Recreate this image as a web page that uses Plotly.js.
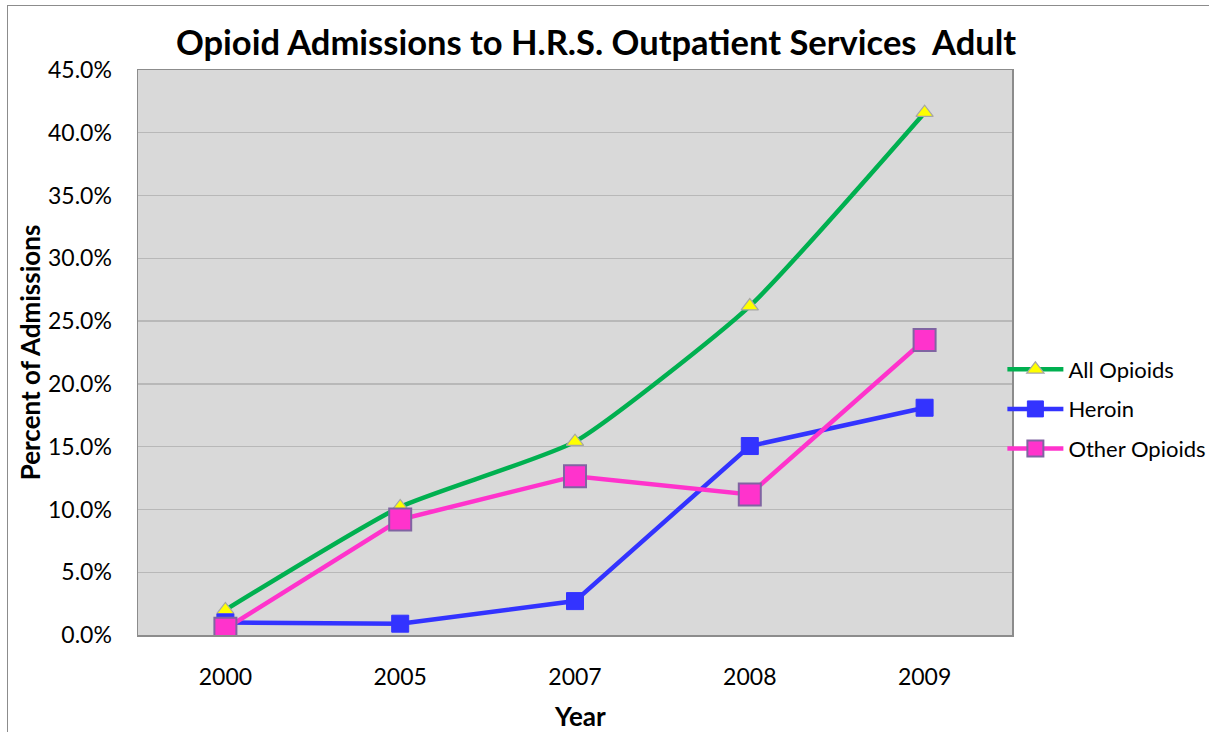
<!DOCTYPE html>
<html>
<head>
<meta charset="utf-8">
<script src="https://cdn.plot.ly/plotly-3.0.1.min.js"></script>
<style>
html,body{margin:0;padding:0;background:#fff;overflow:hidden;}
#frame{position:absolute;left:7px;top:5px;width:1300px;height:800px;border-left:1.5px solid #8c8c8c;border-top:1.5px solid #8c8c8c;}
#chart{position:absolute;left:0;top:0;width:1209px;height:732px;}
</style>
</head>
<body>
<div id="frame"></div>
<div id="chart"></div>
<script>
const years = ["2000", "2005", "2007", "2008", "2009"];
const allOpioids = [2.0, 10.2, 15.4, 26.2, 41.6];
const heroin = [1.0, 0.9, 2.7, 15.05, 18.1];
const otherOpioids = [0.5, 9.2, 12.65, 11.2, 23.5];
const yTicks = [0, 5, 10, 15, 20, 25, 30, 35, 40, 45];

const FONT = "Lato, 'Open Sans', sans-serif";

const traces = [
  {
    x: years, y: allOpioids, name: "All Opioids", type: "scatter", mode: "lines+markers",
    legendgroup: "a",
    line: {color: "#00B050", width: 4.5, shape: "spline", smoothing: 0.5},
    marker: {symbol: "triangle-up", size: 15, color: "#FFFF00", line: {color: "#A6A6A6", width: 1.2}}
  },
  {
    x: years, y: heroin, name: "Heroin", type: "scatter", mode: "lines+markers",
    legendgroup: "b",
    line: {color: "#3333FF", width: 4.5},
    marker: {symbol: "square", size: 17, color: "#3333FF", line: {color: "#3333FF", width: 1}}
  },
  {
    x: years, y: otherOpioids, name: "Other Opioids", type: "scatter", mode: "lines+markers",
    legendgroup: "c",
    line: {color: "#FF33CC", width: 4.5},
    marker: {symbol: "square", size: 22, color: "#FF33CC", line: {color: "#8064A2", width: 2}}
  }
];

const layout = {
  width: 1209, height: 732,
  margin: {l: 138, r: 197, t: 70, b: 97, autoexpand: false},
  paper_bgcolor: "rgba(0,0,0,0)",
  plot_bgcolor: "#D9D9D9",
  font: {family: FONT, size: 22, color: "#000"},
  title: {
    text: "<b>Opioid Admissions to H.R.S. Outpatient Services  Adult</b>",
    font: {family: FONT, size: 34.5, color: "#000"},
    x: 0.493, xanchor: "center", y: 0.942, yanchor: "middle"
  },
  xaxis: {
    type: "category",
    range: [-0.5, 4.5],
    showgrid: false,
    showline: true, linecolor: "#8c8c8c", linewidth: 1.5, mirror: true,
    ticks: "outside", ticklen: 21, tickcolor: "rgba(0,0,0,0)",
    tickfont: {size: 23},
    zeroline: false, automargin: false
  },
  yaxis: {
    range: [0, 45],
    tickvals: yTicks,
    ticktext: yTicks.map(v => v.toFixed(1) + "%"),
    showgrid: true, gridcolor: "#B8B8B8", gridwidth: 1.3,
    showline: true, linecolor: "#8c8c8c", linewidth: 1.5, mirror: true,
    ticks: "outside", ticklen: 20, tickcolor: "rgba(0,0,0,0)",
    tickfont: {size: 23},
    title: {text: "<b>Percent of Admissions</b>", font: {size: 26}, standoff: 0},
    zeroline: false, automargin: false
  },
  annotations: [
    {
      text: "<b>Year</b>", xref: "paper", yref: "paper",
      x: 0.506, y: -0.143, xanchor: "center", yanchor: "middle",
      showarrow: false, font: {size: 26}
    }
  ],
  legend: {
    x: 0.989, xanchor: "left", y: 0.4, yanchor: "middle",
    font: {size: 22}, bgcolor: "rgba(0,0,0,0)",
    itemwidth: 56, traceorder: "grouped", tracegroupgap: 8
  },
  showlegend: true
};

Plotly.newPlot("chart", traces, layout, {displayModeBar: false, staticPlot: true});
</script>
</body>
</html>
